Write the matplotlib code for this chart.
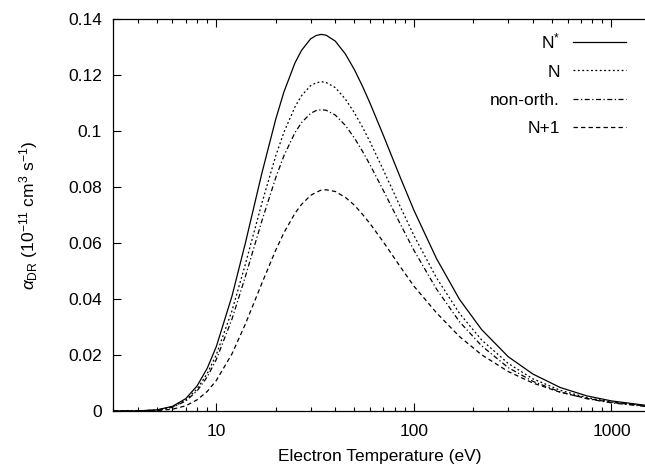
import matplotlib
matplotlib.use("Agg")
import matplotlib.pyplot as plt
from matplotlib.ticker import LogLocator, NullFormatter, FixedLocator, FixedFormatter

plt.rcParams['font.family'] = ['Liberation Sans', 'DejaVu Sans']
plt.rcParams['mathtext.fontset'] = 'custom'
plt.rcParams['mathtext.rm'] = 'Liberation Sans'
plt.rcParams['mathtext.it'] = 'Liberation Sans:italic'
plt.rcParams['mathtext.bf'] = 'Liberation Sans:bold'

# Electron temperature (eV)
temperature = [3, 4, 5, 6, 7, 8, 9, 10, 12, 14, 17, 20, 22, 25, 27, 30, 32, 34, 36, 40,
               45, 50, 55, 60, 70, 85, 100, 130, 170, 220, 300, 400, 550, 750, 1000, 1500]

# DR rate coefficients (1e-11 cm^3 s^-1)
alpha_Nstar = [0.0, 0.00004, 0.0004, 0.00166, 0.0044, 0.0090, 0.0153, 0.0230, 0.0410, 0.0597,
               0.0849, 0.1043, 0.1140, 0.1243, 0.1288, 0.1329, 0.1341, 0.1345, 0.1342, 0.1321,
               0.1275, 0.1219, 0.1159, 0.1099, 0.0985, 0.0837, 0.0717, 0.0545, 0.0399, 0.0291,
               0.0194, 0.0132, 0.0084, 0.0054, 0.0036, 0.0020]
alpha_N = [0.0, 0.00003, 0.00035, 0.00145, 0.00385, 0.0079, 0.0134, 0.0201, 0.0358, 0.0522,
           0.0742, 0.0912, 0.0996, 0.1086, 0.1126, 0.1162, 0.1172, 0.1176, 0.1173, 0.1155,
           0.1114, 0.1065, 0.1013, 0.0961, 0.0861, 0.0732, 0.0627, 0.0476, 0.0349, 0.0254,
           0.0170, 0.0115, 0.0074, 0.0048, 0.0032, 0.0018]
alpha_nonorth = [0.0, 0.00003, 0.00032, 0.00133, 0.00354, 0.0072, 0.0122, 0.0184, 0.0328, 0.0478,
                 0.0679, 0.0834, 0.0912, 0.0994, 0.1030, 0.1063, 0.1073, 0.1076, 0.1074, 0.1057,
                 0.1020, 0.0975, 0.0927, 0.0879, 0.0788, 0.0670, 0.0574, 0.0436, 0.0319, 0.0233,
                 0.0155, 0.0106, 0.0068, 0.0044, 0.0029, 0.0016]
alpha_Nplus1 = [0.0, 0.00001, 0.00014, 0.00064, 0.00185, 0.0040, 0.0070, 0.0109, 0.0204, 0.0309,
                0.0456, 0.0575, 0.0637, 0.0706, 0.0738, 0.0770, 0.0781, 0.0789, 0.0790, 0.0784,
                0.0763, 0.0735, 0.0702, 0.0669, 0.0604, 0.0517, 0.0446, 0.0351, 0.0266, 0.0201,
                0.0141, 0.0100, 0.0067, 0.0045, 0.0031, 0.0018]

labels = [r'N$^{*}$', 'N', 'non-orth.', 'N+1']
ytick_vals = [0, 0.02, 0.04, 0.06, 0.08, 0.1, 0.12, 0.14]
ytick_labels = ['0', '0.02', '0.04', '0.06', '0.08', '0.1', '0.12', '0.14']
xtick_vals = [10, 100, 1000]
xtick_labels = ['10', '100', '1000']

fig = plt.figure(figsize=(6.45, 4.68), dpi=100)
ax = fig.add_axes([113/645, 1 - 411/468, 1 - 113/645 + 0.002, (411 - 19)/468])

lw = 0.9
ax.plot(temperature, alpha_Nstar, color='black', lw=lw, ls='-', label=labels[0])
ax.plot(temperature, alpha_N, color='black', lw=lw, ls=(0, (1.5, 2.0)), label=labels[1])
ax.plot(temperature, alpha_nonorth, color='black', lw=lw, ls=(0, (4, 2, 1, 2)), label=labels[2])
ax.plot(temperature, alpha_Nplus1, color='black', lw=lw, ls=(0, (3.5, 2.5)), label=labels[3])

ax.set_xscale('log')
ax.set_xlim(3, 1500)
ax.set_ylim(0, 0.14)

ax.xaxis.set_major_locator(FixedLocator(xtick_vals))
ax.xaxis.set_major_formatter(FixedFormatter(xtick_labels))
ax.xaxis.set_minor_locator(LogLocator(base=10, subs=range(2, 10), numticks=20))
ax.xaxis.set_minor_formatter(NullFormatter())
ax.yaxis.set_major_locator(FixedLocator(ytick_vals))
ax.yaxis.set_major_formatter(FixedFormatter(ytick_labels))

ax.tick_params(axis='both', which='major', direction='in', length=5.8, width=0.8,
               labelsize=12.5, top=True, right=False)
ax.tick_params(axis='both', which='minor', direction='in', length=2.9, width=0.8,
               top=True, right=False)
ax.tick_params(axis='x', which='major', pad=9)
ax.tick_params(axis='y', which='major', pad=8)
ax.spines['right'].set_visible(False)
for s in ['left', 'bottom', 'top']:
    ax.spines[s].set_linewidth(0.9)

ax.set_xlabel('Electron Temperature (eV)', fontsize=12.5, labelpad=7.5)
ax.set_ylabel(r'$\alpha_{\rm DR}$ (10$^{-11}$ cm$^{3}$ s$^{-1}$)', fontsize=12.5, labelpad=20)

leg = ax.legend(loc='upper right', bbox_to_anchor=(0.991, 1.008), markerfirst=False,
                frameon=False, fontsize=12.5, handlelength=3.05, handletextpad=0.75,
                labelspacing=0.75)

fig.savefig('out.png', dpi=100)
